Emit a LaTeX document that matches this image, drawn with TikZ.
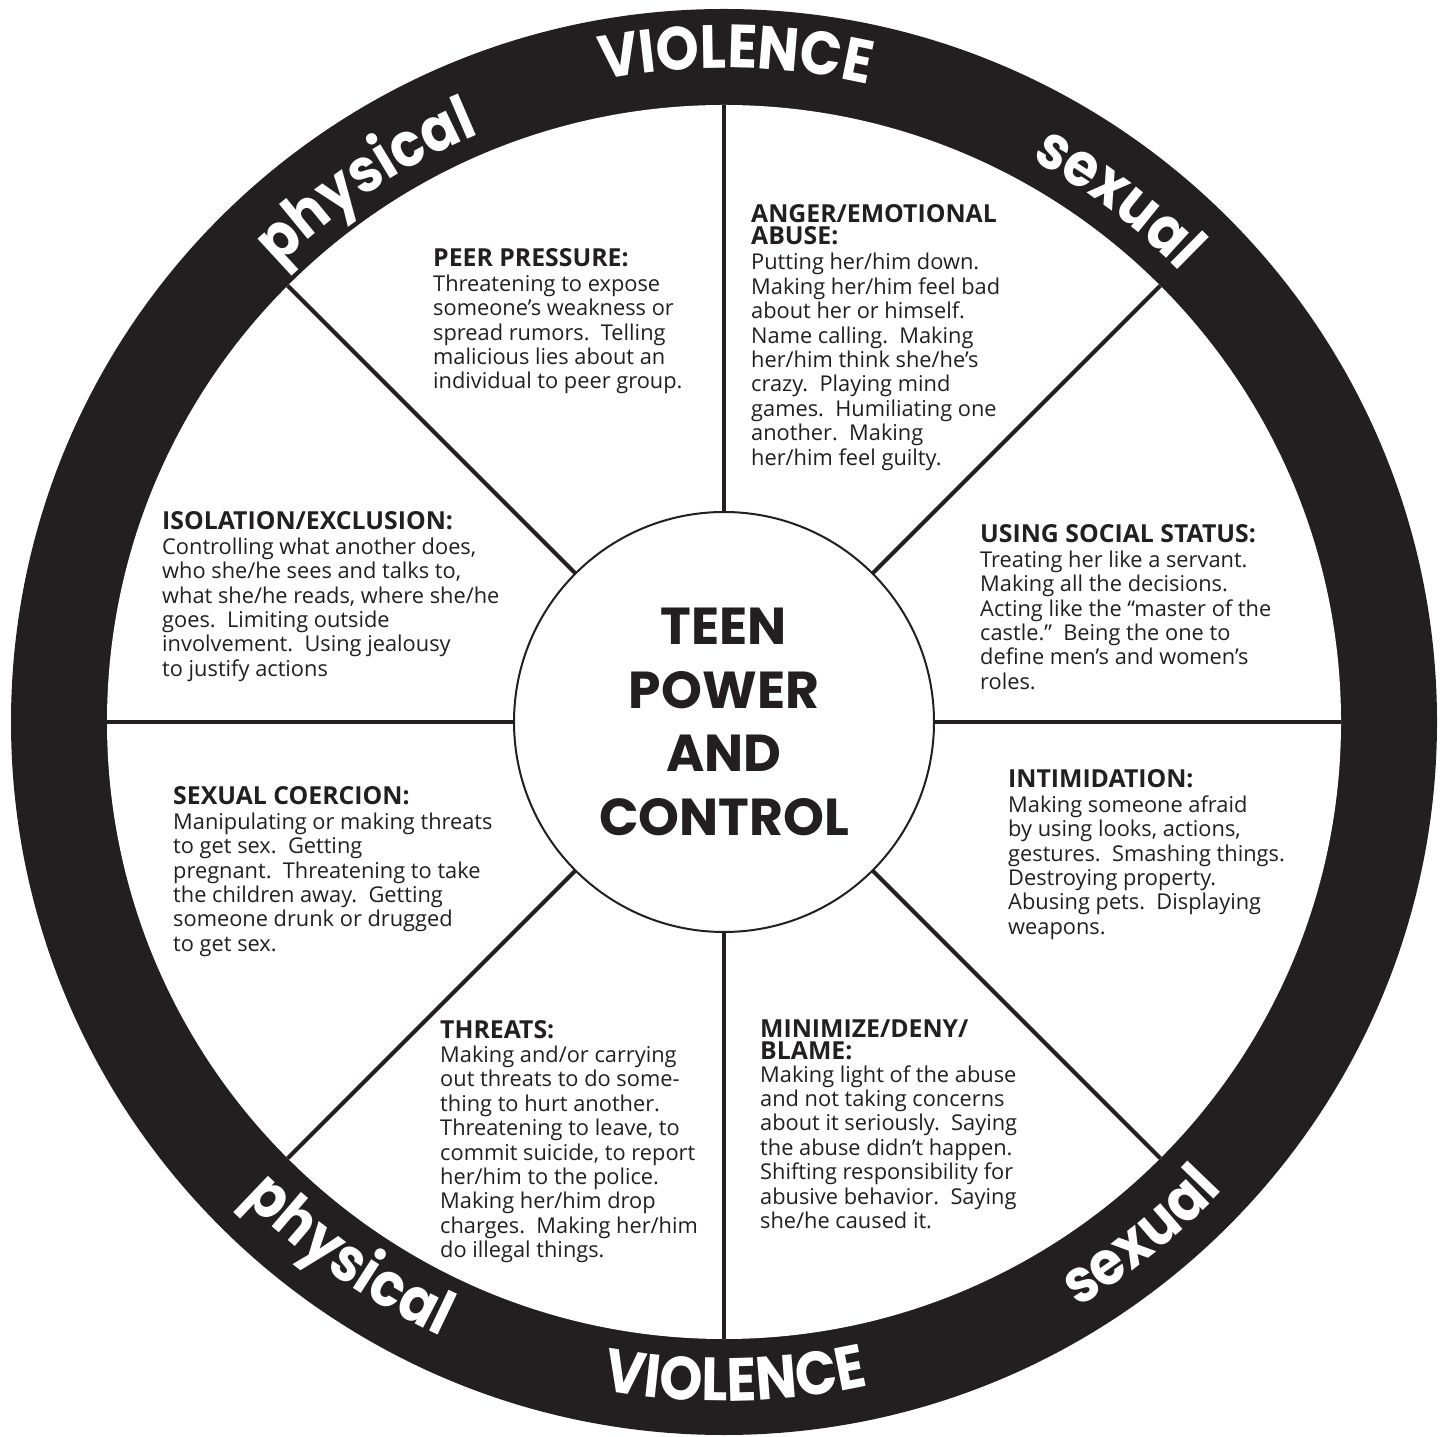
\documentclass[tikz,border=0pt]{standalone}
\usepackage{fontspec}
\usetikzlibrary{decorations.text}
\setmainfont{Open Sans}
\newfontfamily\popfont{Poppins}
\newfontfamily\popnarrow[FakeStretch=0.9]{Poppins}
\definecolor{ink}{HTML}{231F20}
\newcommand{\ringfont}{\popnarrow\bfseries\fontsize{61}{61}\selectfont\color{white}}
\newcommand{\hd}[1]{{\fontsize{24.8}{24.4}\selectfont\bfseries #1}}
\newcommand{\wblock}[1]{\parbox[t]{420pt}{\raggedright\fontsize{21.8}{24.4}\selectfont #1}}
\begin{document}
\begin{tikzpicture}[x=1pt,y=1pt,
  spoke/.style={line width=4pt, draw=ink, line cap=butt},
  blk/.style={anchor=base west, inner sep=0pt, text=ink},
  hubstyle/.style={circle, draw=ink, line width=2pt, fill=white, minimum size=420pt, inner sep=0pt, outer sep=0pt, align=center, text=ink, font=\popfont\bfseries\fontsize{52}{63.5}\selectfont},
  ringtxt/.style={decorate, decoration={text along path, text align=center, text={#1}}}]
\useasboundingbox (0,0) rectangle (1445,1436);
\coordinate (C) at (724,714);
\fill[ink] (C) circle[radius=713];
\fill[white] (C) circle[radius=617];
\node[hubstyle] (hub) at (C) {TEEN\\POWER\\AND\\CONTROL};
\foreach \a in {0,45,...,315} \draw[spoke] (hub.\a) -- ([shift={(\a:617)}]C);
% ring texts
\path[ringtxt={|\ringfont|VIOLENCE}] ([shift={(119:654)}]C) arc[start angle=119, end angle=59, radius=654];
\path[ringtxt={|\ringfont|physical}] ([shift={(153.5:637)}]C) arc[start angle=153.5, end angle=93.5, radius=637];
\path[ringtxt={|\ringfont|sexual}] ([shift={(83:641)}]C) arc[start angle=83, end angle=23, radius=641];
\path[ringtxt={|\ringfont|VIOLENCE}] ([shift={(241:679)}]C) arc[start angle=241, end angle=301, radius=679];
\path[ringtxt={|\ringfont|physical}] ([shift={(205:677)}]C) arc[start angle=205, end angle=265, radius=677];
\path[ringtxt={|\ringfont|sexual}] ([shift={(279:684)}]C) arc[start angle=279, end angle=339, radius=684];
% text blocks
\node[blk] (peer) at (433,1169) {\wblock{\hd{PEER PRESSURE:}\\
Threatening to expose\\
someone’s weakness or\\
spread rumors.\ \ Telling\\
malicious lies about an\\
individual to peer group.}};
\node[blk] (anger) at (751,1213) {\wblock{\hd{ANGER/EMOTIONAL}\\[-2.4pt]
\hd{ABUSE:}\\[0.6pt]
Putting her/him down.\\
Making her/him feel bad\\
about her or himself.\\
Name calling.\ \ Making\\
her/him think she/he’s\\
crazy.\ \ Playing mind\\
games.\ \ Humiliating one\\
another.\ \ Making\\
her/him feel guilty.}};
\node[blk] (iso) at (162,906) {\wblock{\hd{ISOLATION/EXCLUSION:}\\
Controlling what another does,\\
who she/he sees and talks to,\\
what she/he reads, where she/he\\
goes.\ \ Limiting outside\\
involvement.\ \ Using jealousy\\
to justify actions}};
\node[blk] (status) at (980,893) {\wblock{\hd{USING SOCIAL STATUS:}\\
Treating her like a servant.\\
Making all the decisions.\\
Acting like the “master of the\\
castle.”\ \ Being the one to\\
define men’s and women’s\\
roles.}};
\node[blk] (coerc) at (173,631) {\wblock{\hd{SEXUAL COERCION:}\\
Manipulating or making threats\\
to get sex.\ \ Getting\\
pregnant.\ \ Threatening to take\\
the children away.\ \ Getting\\
someone drunk or drugged\\
to get sex.}};
\node[blk] (intim) at (1008,648) {\wblock{\hd{INTIMIDATION:}\\
Making someone afraid\\
by using looks, actions,\\
gestures.\ \ Smashing things.\\
Destroying property.\\
Abusing pets.\ \ Displaying\\
weapons.}};
\node[blk] (threats) at (440,398) {\wblock{\hd{THREATS:}\\
Making and/or carrying\\
out threats to do some-\\
thing to hurt another.\\
Threatening to leave, to\\
commit suicide, to report\\
her/him to the police.\\
Making her/him drop\\
charges.\ \ Making her/him\\
do illegal things.}};
\node[blk] (minim) at (760,399) {\wblock{\hd{MINIMIZE/DENY/}\\[-2.4pt]
\hd{BLAME:}\\[-1.4pt]
Making light of the abuse\\
and not taking concerns\\
about it seriously.\ \ Saying\\
the abuse didn’t happen.\\
Shifting responsibility for\\
abusive behavior.\ \ Saying\\
she/he caused it.}};
\end{tikzpicture}
\end{document}
